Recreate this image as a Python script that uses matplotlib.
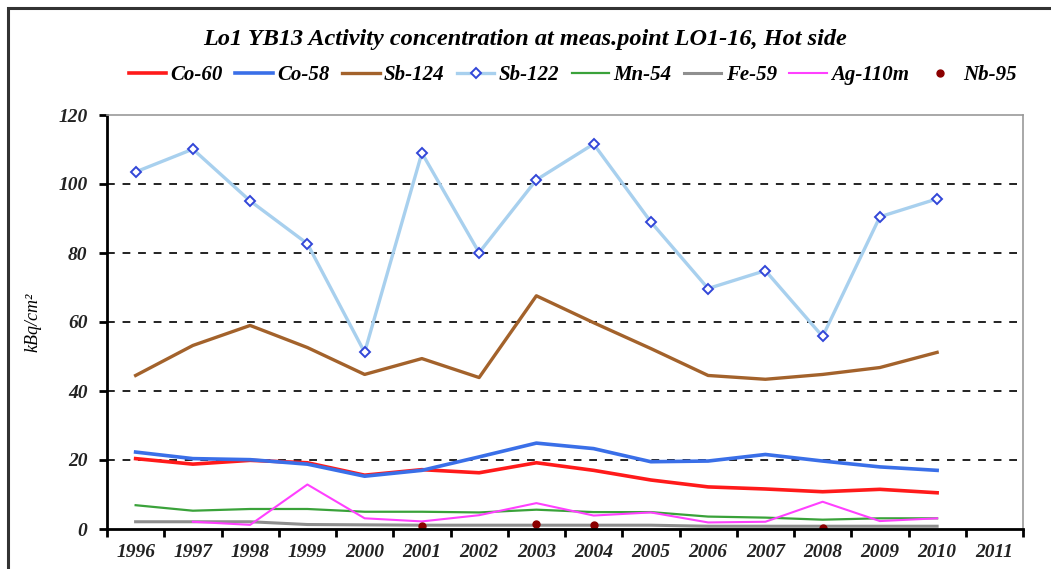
import numpy as np
import matplotlib.pyplot as plt
from matplotlib.patches import Rectangle

years = [str(y) for y in range(1996, 2012)]

# values for 1996..2010 (2011 has no data)
co60 = [20.4, 18.8, 19.9, 19.2, 15.6, 17.2, 16.3, 19.2, 17.0, 14.2, 12.2, 11.6, 10.8, 11.5, 10.5]
co58 = [22.3, 20.4, 20.1, 18.8, 15.3, 17.0, 20.9, 24.9, 23.3, 19.5, 19.7, 21.6, 19.7, 18.0, 17.0]
sb124 = [44.5, 53.2, 59.0, 52.6, 44.8, 49.4, 43.9, 67.6, 59.8, 52.3, 44.5, 43.4, 44.8, 46.8, 51.2]
sb122 = [103.5, 110.1, 95.1, 82.7, 51.2, 109.0, 80.1, 101.2, 111.6, 89.0, 69.7, 74.9, 55.8, 90.5, 95.7]
mn54 = [6.9, 5.3, 5.8, 5.8, 5.0, 5.0, 4.8, 5.6, 4.9, 4.9, 3.6, 3.3, 2.7, 3.1, 3.1]
fe59 = [2.1, 2.1, 2.1, 1.3, 1.2, 1.1, 1.1, 1.1, 1.1, 1.1, 0.8, 0.8, 0.8, 0.8, 0.8]
ag110m = [np.nan, 2.1, 1.2, 12.9, 3.1, 2.2, 4.0, 7.5, 3.9, 4.8, 1.9, 2.1, 7.9, 2.3, 3.1]
nb95 = [np.nan, np.nan, np.nan, np.nan, np.nan, 0.9, np.nan, 1.4, 1.3, np.nan,
        np.nan, np.nan, 0.3, np.nan, np.nan]

serif = "Liberation Serif"
lab_font = dict(family=serif, style="italic", weight="bold")

fig = plt.figure(figsize=(10.51, 5.69), dpi=100)
# outer chart frame (runs off the right and bottom edges)
fig.patches.append(Rectangle((8 / 1051, -0.02), 1.05, 1 - 8 / 569 + 0.02,
                             transform=fig.transFigure, fill=False,
                             edgecolor="#333333", linewidth=2.2))
ax = fig.add_axes([107 / 1051, 1 - 529 / 569, (1023 - 107) / 1051, (529 - 115) / 569])

x = np.arange(len(co60))
ax.plot(x, co60, color="#ff1a1a", lw=2.6, label="Co-60")
ax.plot(x, co58, color="#3a6fe8", lw=2.6, label="Co-58")
ax.plot(x, sb124, color="#a3622b", lw=2.4, label="Sb-124")
ax.plot(x, sb122, color="#a8d0ee", lw=2.4, marker="D", ms=5, mfc="white",
        mec="#3246d8", mew=1.4, label="Sb-122")
ax.plot(x, mn54, color="#3aa23a", lw=1.6, label="Mn-54")
ax.plot(x, fe59, color="#8f8f8f", lw=2.2, label="Fe-59")
ax.plot(x, ag110m, color="#ff40ff", lw=1.5, label="Ag-110m")
ax.plot(x, nb95, color="#8b0000", lw=0, marker="o", ms=5, label="Nb-95")

ax.set_xlim(-0.5, len(years) - 0.5)
ax.set_ylim(0, 120)
ax.set_yticks(range(0, 121, 20))
ax.set_xticks(np.arange(len(years)))
ax.set_xticklabels(years)
ax.set_xticks(np.arange(len(years) + 1) - 0.5, minor=True)
ax.tick_params(axis="x", which="major", length=0, pad=11)
ax.tick_params(axis="x", which="minor", length=6, width=2, direction="out")
ax.tick_params(axis="y", length=6, width=2, direction="out", pad=8)
for lbl in ax.get_xticklabels() + ax.get_yticklabels():
    lbl.set_fontfamily(serif)
    lbl.set_fontstyle("italic")
    lbl.set_fontweight("bold")
    lbl.set_fontsize(14)
    lbl.set_color("#222222")

for v in range(20, 101, 20):
    ax.axhline(v, color="#222222", lw=1.4, ls=(0, (4, 4)), zorder=0)

ax.spines["left"].set_linewidth(2)
ax.spines["bottom"].set_linewidth(2)
ax.spines["top"].set_color("#999999")
ax.spines["right"].set_color("#999999")
ax.spines["top"].set_linewidth(1.2)
ax.spines["right"].set_linewidth(1.2)

ax.set_ylabel("kBq/cm²", fontsize=13, labelpad=12, **{"family": serif, "style": "italic"})

fig.text(0.5, 1 - 40 / 569, "Lo1 YB13 Activity concentration at meas.point LO1-16, Hot side",
         ha="center", va="center", fontsize=17.5, **lab_font)

leg = fig.legend(loc="center", bbox_to_anchor=(0.545, 1 - 75 / 569), ncol=8,
                 frameon=False, handlelength=1.8, columnspacing=0.6, handletextpad=0.2,
                 prop=dict(family=serif, style="italic", weight="bold", size=15))

fig.savefig("out.png", dpi=100)
